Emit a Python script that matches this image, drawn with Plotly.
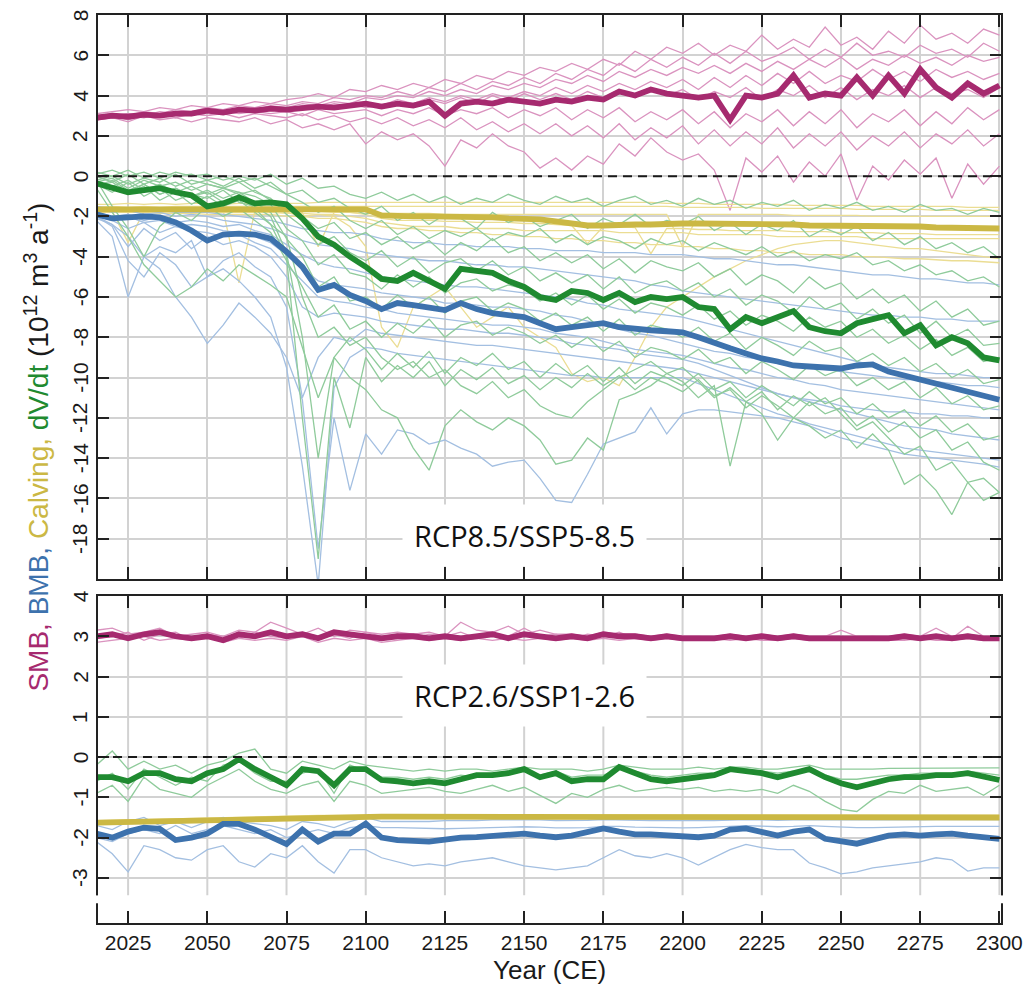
import plotly.graph_objects as go

# ---------------- data ----------------
YEARS = list(range(2015, 2301, 5))
XTICKS = list(range(2025, 2301, 25))
YTICKS_85 = list(range(-18, 9, 2))
YTICKS_26 = list(range(-3, 5, 1))
YLABELS_85 = [str(v) for v in YTICKS_85]
YLABELS_26 = [str(v) for v in YTICKS_26]

# ---- RCP8.5 / SSP5-8.5 : ensemble means ----
SMB85_MEAN = [2.9, 3.0, 2.95, 3.05, 3.0, 3.1, 3.1, 3.25, 3.15, 3.3,
              3.25, 3.35, 3.3, 3.4, 3.45, 3.4, 3.5, 3.6, 3.45, 3.6,
              3.5, 3.7, 3.0, 3.6, 3.7, 3.6, 3.8, 3.7, 3.6, 3.8,
              3.7, 3.9, 3.8, 4.2, 4.0, 4.3, 4.1, 4.0, 3.9, 4.0,
              2.8, 4.0, 3.9, 4.1, 5.0, 3.9, 4.1, 4.0, 4.9, 4.0,
              5.0, 4.1, 5.3, 4.4, 3.9, 4.6, 4.1, 4.5]
BMB85_MEAN = [-1.9, -2.1, -2.05, -2.0, -2.05, -2.3, -2.7, -3.2, -2.9, -2.85,
              -2.9, -3.1, -3.75, -4.5, -5.65, -5.4, -5.9, -6.2, -6.6, -6.3,
              -6.4, -6.5, -6.65, -6.3, -6.6, -6.8, -6.9, -7.0, -7.3, -7.6,
              -7.5, -7.4, -7.3, -7.5, -7.6, -7.65, -7.7, -7.75, -8.0, -8.3,
              -8.55, -8.8, -9.05, -9.2, -9.4, -9.45, -9.5, -9.55, -9.4, -9.35,
              -9.7, -9.9, -10.1, -10.3, -10.55, -10.7, -10.9, -11.1]
CALV85_MEAN = [-1.65, -1.65, -1.65, -1.65, -1.65, -1.6, -1.6, -1.6, -1.6, -1.6,
               -1.6, -1.6, -1.6, -1.6, -1.6, -1.6, -1.6, -1.65, -1.95, -2.0,
               -2.0, -2.0, -2.0, -2.05, -2.05, -2.05, -2.1, -2.1, -2.15, -2.25,
               -2.35, -2.45, -2.45, -2.4, -2.4, -2.4, -2.35, -2.35, -2.35, -2.35,
               -2.35, -2.35, -2.4, -2.4, -2.4, -2.45, -2.45, -2.45, -2.5, -2.5,
               -2.5, -2.5, -2.5, -2.55, -2.55, -2.55, -2.6, -2.6]
DVDT85_MEAN = [-0.35, -0.6, -0.8, -0.7, -0.6, -0.8, -0.95, -1.5, -1.35, -1.05,
               -1.35, -1.3, -1.4, -2.1, -3.0, -3.4, -4.0, -4.5, -5.1, -5.2,
               -4.8, -5.2, -5.6, -4.6, -4.7, -4.8, -5.2, -5.5, -6.0, -6.15,
               -5.7, -5.8, -6.15, -5.8, -6.25, -6.0, -6.1, -6.0, -6.5, -6.6,
               -7.6, -7.0, -7.3, -7.0, -6.7, -7.5, -7.7, -7.8, -7.3, -7.1,
               -6.9, -7.8, -7.4, -8.4, -8.0, -8.3, -9.0, -9.15]

# ---- RCP8.5 : individual runs ----
SMB85_RUNS = [
    [3.1, 3.2, 3.3, 3.2, 3.4, 3.3, 3.5, 3.4, 3.6, 3.5,
     3.7, 3.6, 3.8, 3.9, 4.1, 3.9, 4.3, 4.2, 4.5, 4.3,
     4.6, 4.4, 4.8, 4.6, 5.0, 4.8, 5.2, 5.0, 5.4, 5.2,
     5.6, 5.3, 5.8, 5.5, 6.2, 5.8, 6.4, 6.1, 6.6, 6.0,
     6.5, 6.2, 7.0, 6.3, 6.8, 6.4, 7.4, 6.5, 6.9, 6.3,
     7.2, 6.6, 7.5, 6.8, 7.1, 6.6, 7.3, 7.0],
    [3.0, 3.1, 3.0, 3.2, 3.1, 3.3, 3.2, 3.4, 3.3, 3.5,
     3.4, 3.6, 3.5, 3.7, 3.6, 3.9, 3.8, 4.0, 3.9, 4.2,
     4.0, 4.4, 4.2, 4.6, 4.3, 4.7, 4.5, 4.9, 4.6, 5.1,
     4.8, 5.3, 5.0, 5.6, 5.2, 5.8, 5.4, 5.9, 5.5, 6.1,
     5.6, 6.2, 5.7, 6.0, 6.4, 5.8, 6.3, 5.9, 6.6, 6.0,
     6.2, 5.9, 6.5, 6.1, 6.3, 5.9, 6.6, 6.2],
    [2.9, 3.0, 3.1, 3.0, 3.2, 3.1, 3.2, 3.3, 3.2, 3.4,
     3.3, 3.5, 3.4, 3.6, 3.5, 3.7, 3.6, 3.9, 3.8, 4.0,
     3.9, 4.2, 4.0, 4.3, 4.1, 4.5, 4.3, 4.6, 4.4, 4.8,
     4.6, 5.0, 4.7, 5.2, 4.9, 5.3, 5.0, 5.4, 5.1, 5.5,
     5.1, 5.6, 5.2, 5.7, 5.3, 5.8, 5.4, 5.9, 5.3, 5.8,
     5.5, 6.0, 5.6, 5.9, 5.5, 6.0, 5.7, 5.9],
    [2.8, 3.0, 2.9, 3.1, 3.0, 3.1, 3.0, 3.2, 3.1, 3.3,
     3.2, 3.4, 3.3, 3.5, 3.4, 3.6, 3.5, 3.7, 3.5, 3.8,
     3.6, 3.9, 3.7, 4.0, 3.8, 4.1, 3.9, 4.2, 4.0, 4.4,
     4.1, 4.5, 4.2, 4.6, 4.3, 4.7, 4.4, 4.8, 4.3, 4.9,
     4.4, 5.0, 4.5, 5.1, 4.6, 5.2, 4.6, 5.0, 4.7, 5.3,
     4.8, 5.2, 4.7, 5.3, 4.9, 5.2, 4.8, 5.1],
    [3.0, 2.9, 3.1, 3.0, 3.0, 3.2, 3.1, 3.2, 3.3, 3.2,
     3.4, 3.3, 3.4, 3.3, 3.5, 3.4, 3.6, 3.4, 3.5, 3.7,
     3.5, 3.8, 3.6, 3.9, 3.6, 4.0, 3.7, 4.1, 3.8, 4.1,
     3.8, 4.2, 3.9, 4.3, 3.9, 4.4, 4.0, 4.3, 3.8, 4.2,
     3.9, 4.4, 3.8, 4.3, 4.0, 4.5, 3.9, 4.4, 3.8, 4.3,
     4.0, 4.5, 3.9, 4.4, 4.1, 4.3, 3.9, 4.4],
    [2.8, 2.9, 3.0, 2.9, 3.1, 3.0, 3.1, 3.0, 3.2, 3.1,
     3.2, 3.1, 3.2, 3.0, 3.3, 3.1, 3.2, 3.3, 3.0, 3.3,
     3.1, 3.4, 3.0, 3.3, 3.1, 3.4, 2.9, 3.3, 3.0, 3.4,
     2.8, 3.3, 2.9, 3.4, 2.7, 3.2, 2.8, 3.3, 2.6, 3.2,
     2.4, 3.1, 2.7, 3.3, 2.5, 3.2, 2.6, 3.3, 2.4, 3.1,
     2.7, 3.3, 2.5, 3.2, 2.6, 3.4, 2.8, 3.3],
    [2.9, 3.0, 2.8, 3.0, 3.1, 2.9, 3.1, 3.0, 3.1, 2.9,
     3.1, 3.0, 2.9, 3.1, 2.8, 3.0, 2.7, 2.9, 2.6, 2.9,
     2.5, 2.8, 2.4, 2.9, 2.3, 2.7, 2.2, 2.6, 2.1, 2.6,
     2.0, 2.5, 1.9, 2.6, 1.8, 2.4, 1.9, 2.5, 1.6, 2.3,
     1.5, 2.2, 1.6, 2.4, 1.4, 2.1, 1.5, 2.2, 1.3, 2.0,
     1.5, 2.2, 1.4, 2.1, 1.6, 2.3, 1.5, 2.1],
    [2.8, 2.9, 2.7, 3.0, 2.8, 2.9, 2.7, 2.9, 2.8, 2.7,
     2.9, 2.6, 2.8, 2.4, 2.6, 2.3, 2.6, 1.6, 2.2, 1.8,
     2.1, 1.5, 0.5, 1.8, 1.4, 2.1, 1.5, 1.2, 0.4, 0.9,
     0.3, 1.0, 0.6, 1.6, 1.0, 1.9, 1.2, 0.8, 1.1, 0.3,
     -1.7, 0.9, 0.2, 1.0, -0.3, 0.7, 0.0, 1.1, -1.2, 0.5,
     -0.2, 0.8, 0.1, 0.9, -1.1, 0.6, -0.4, 0.5],
]

BMB85_RUNS = [
    [-1.5, -1.6, -1.6, -1.7, -1.7, -1.8, -1.8, -1.8, -1.9, -2.0,
     -2.1, -2.2, -2.4, -2.6, -2.7, -2.8, -2.8, -2.9, -3.1, -3.2,
     -3.3, -3.3, -3.4, -3.4, -3.5, -3.5, -3.5, -3.6, -3.6, -3.7,
     -3.7, -3.7, -3.8, -3.8, -3.8, -3.9, -3.9, -3.9, -4.0, -4.1,
     -4.1, -4.2, -4.3, -4.4, -4.4, -4.5, -4.6, -4.7, -4.8, -4.9,
     -4.9, -5.0, -5.1, -5.1, -5.2, -5.3, -5.3, -5.4],
    [-1.6, -1.8, -1.7, -1.9, -1.8, -2.0, -1.9, -2.0, -2.2, -2.3,
     -2.4, -2.6, -2.9, -3.2, -3.4, -3.5, -3.6, -3.8, -3.9, -4.0,
     -4.1, -4.2, -4.2, -4.3, -4.4, -4.4, -4.5, -4.5, -4.6, -4.7,
     -4.8, -4.9, -5.0, -5.1, -5.2, -5.4, -5.5, -5.7, -5.8, -5.9,
     -6.0, -6.1, -6.2, -6.3, -6.4, -6.5, -6.6, -6.7, -6.8, -6.9,
     -6.9, -7.0, -7.0, -7.1, -7.1, -7.2, -7.2, -7.2],
    [-1.8, -2.0, -1.9, -2.2, -2.0, -2.3, -2.2, -2.3, -2.5, -2.4,
     -2.7, -2.9, -3.4, -3.9, -4.3, -4.5, -4.6, -4.8, -5.0, -5.1,
     -5.2, -5.3, -5.4, -5.5, -5.5, -5.6, -5.7, -5.8, -5.9, -6.0,
     -6.1, -6.3, -6.4, -6.6, -6.7, -6.8, -6.9, -7.0, -7.2, -7.4,
     -7.6, -7.8, -8.0, -8.2, -8.4, -8.6, -8.8, -9.0, -9.2, -9.4,
     -9.5, -9.6, -9.7, -9.8, -9.8, -9.9, -10.0, -10.0],
    [-1.9, -2.1, -2.0, -2.3, -2.2, -2.5, -2.4, -2.5, -2.7, -2.8,
     -3.0, -3.3, -3.9, -4.6, -5.2, -5.4, -5.5, -5.6, -5.8, -5.9,
     -6.0, -6.1, -6.3, -6.3, -6.4, -6.5, -6.5, -6.6, -6.7, -6.9,
     -7.0, -7.2, -7.4, -7.6, -7.8, -7.9, -8.1, -8.3, -8.5, -8.7,
     -8.8, -9.0, -9.1, -9.3, -9.4, -9.5, -9.6, -9.7, -9.8, -9.9,
     -10.0, -10.1, -10.1, -10.2, -10.3, -10.4, -10.4, -10.5],
    [-2.0, -2.2, -2.6, -2.3, -2.8, -2.5, -2.7, -2.8, -3.0, -2.9,
     -3.3, -3.6, -4.4, -5.2, -6.0, -6.2, -6.3, -6.5, -6.6, -6.8,
     -6.9, -7.0, -7.1, -7.2, -7.3, -7.4, -7.4, -7.5, -7.6, -7.8,
     -7.9, -8.0, -8.2, -8.4, -8.6, -8.7, -8.8, -8.9, -9.1, -9.3,
     -9.5, -9.6, -9.8, -10.0, -10.1, -10.3, -10.4, -10.6, -10.7, -10.8,
     -10.9, -11.0, -11.1, -11.2, -11.3, -11.4, -11.5, -11.6],
    [-2.1, -2.4, -3.5, -2.6, -3.2, -2.8, -3.6, -3.0, -3.4, -3.2,
     -3.5, -4.0, -5.0, -6.5, -7.0, -6.8, -6.9, -7.0, -7.2, -7.3,
     -7.4, -7.5, -7.6, -7.6, -7.7, -7.8, -7.8, -7.9, -8.0, -8.1,
     -8.3, -8.4, -8.5, -8.6, -8.8, -8.9, -9.0, -9.1, -9.3, -9.6,
     -9.9, -10.2, -10.5, -10.8, -11.0, -11.1, -11.2, -11.4, -11.5, -11.6,
     -11.7, -11.7, -11.8, -11.8, -11.9, -11.9, -12.0, -12.0],
    [-2.2, -3.0, -6.0, -4.0, -3.5, -3.8, -3.2, -5.0, -4.2, -3.8,
     -4.5, -5.0, -6.5, -11.0, -9.0, -8.0, -8.2, -7.6, -7.8, -7.9,
     -8.0, -8.1, -8.2, -8.3, -8.4, -8.4, -8.5, -8.6, -8.7, -8.8,
     -8.9, -9.0, -9.1, -9.2, -9.3, -9.4, -9.5, -9.6, -9.8, -10.0,
     -10.2, -10.4, -10.6, -10.8, -11.0, -11.2, -11.4, -11.6, -11.8, -12.0,
     -12.2, -12.4, -12.5, -12.6, -12.8, -12.9, -13.0, -13.1],
    [-2.0, -2.5, -4.2, -5.0, -3.8, -4.4, -5.5, -5.0, -4.6, -5.2,
     -6.0, -7.0, -9.5, -14.4, -20.3, -10.5, -9.0, -8.5, -8.6, -8.8,
     -8.9, -9.0, -9.1, -9.2, -9.3, -9.4, -9.5, -9.6, -9.7, -9.8,
     -9.9, -9.9, -10.0, -10.0, -10.0, -10.0, -10.0, -10.0, -10.3, -10.6,
     -10.9, -11.2, -11.5, -11.8, -12.0, -12.3, -12.5, -12.7, -12.9, -13.1,
     -13.3, -13.5, -13.6, -13.7, -13.8, -13.9, -14.0, -14.1],
    [-2.0, -2.4, -3.0, -4.0, -4.6, -6.0, -7.0, -8.3, -7.4, -6.3,
     -7.0, -7.8, -9.0, -11.1, -18.5, -12.0, -15.6, -12.8, -13.8, -12.6,
     -12.8, -13.3, -13.1, -13.5, -13.8, -14.4, -14.2, -14.1, -15.0, -16.1,
     -16.2, -14.8, -13.3, -13.0, -12.7, -11.5, -12.8, -11.8, -11.6, -11.6,
     -11.7, -11.8, -11.9, -12.0, -12.2, -12.4, -12.7, -13.0, -13.2, -13.4,
     -13.6, -13.8, -13.9, -14.0, -14.1, -14.2, -14.3, -14.45],
]

CALV85_RUNS = [
    [-1.4, -1.4, -1.35, -1.4, -1.35, -1.4, -1.35, -1.35, -1.4, -1.35,
     -1.35, -1.35, -1.35, -1.35, -1.3, -1.3, -1.3, -1.3, -1.3, -1.3,
     -1.3, -1.3, -1.3, -1.3, -1.3, -1.3, -1.3, -1.3, -1.3, -1.3,
     -1.3, -1.3, -1.3, -1.3, -1.3, -1.3, -1.35, -1.35, -1.35, -1.4,
     -1.4, -1.4, -1.4, -1.4, -1.45, -1.45, -1.45, -1.45, -1.45, -1.5,
     -1.5, -1.5, -1.5, -1.5, -1.5, -1.55, -1.55, -1.55],
    [-1.55, -1.5, -1.55, -1.5, -1.55, -1.5, -1.5, -1.5, -1.5, -1.5,
     -1.5, -1.5, -1.5, -1.5, -1.5, -1.5, -1.5, -1.5, -1.5, -1.5,
     -1.5, -1.5, -1.5, -1.5, -1.5, -1.5, -1.5, -1.5, -1.5, -1.5,
     -1.5, -1.5, -1.5, -1.5, -1.5, -1.5, -1.5, -1.55, -1.55, -1.55,
     -1.55, -1.55, -1.6, -1.6, -1.6, -1.6, -1.6, -1.6, -1.65, -1.65,
     -1.65, -1.65, -1.65, -1.7, -1.7, -1.7, -1.7, -1.7],
    [-1.7, -1.75, -3.3, -1.75, -1.7, -1.75, -1.7, -1.75, -1.7, -5.3,
     -1.75, -1.7, -1.75, -1.8, -3.5, -1.8, -1.8, -1.85, -1.85, -1.85,
     -1.85, -1.85, -1.9, -1.9, -1.9, -1.9, -1.9, -1.9, -1.9, -1.9,
     -1.9, -1.9, -1.9, -1.9, -1.9, -1.9, -1.9, -3.5, -1.9, -1.9,
     -1.9, -1.9, -1.9, -1.9, -1.95, -1.95, -1.95, -1.95, -1.95, -2.0,
     -2.0, -2.0, -2.0, -2.0, -2.0, -2.0, -2.0, -2.0],
    [-1.7, -1.7, -1.7, -1.7, -1.65, -1.7, -1.65, -1.7, -1.65, -1.7,
     -1.7, -1.7, -1.7, -1.75, -1.75, -1.8, -1.8, -1.9, -2.1, -2.2,
     -2.2, -2.2, -2.25, -2.25, -2.3, -2.3, -2.3, -2.35, -2.35, -2.4,
     -2.45, -3.35, -2.5, -2.5, -2.55, -3.85, -2.6, -2.6, -2.65, -2.65,
     -2.7, -2.7, -2.7, -2.7, -2.75, -2.75, -2.75, -2.8, -2.8, -2.8,
     -2.85, -2.85, -2.85, -2.9, -2.9, -2.9, -2.9, -2.9],
    [-1.7, -1.7, -1.7, -1.7, -1.7, -1.7, -1.7, -1.7, -1.7, -1.7,
     -1.75, -1.75, -1.8, -2.0, -1.9, -2.0, -2.5, -3.5, -7.5, -8.5,
     -6.5, -6.0, -5.5, -6.5, -7.5, -7.0, -6.5, -7.5, -8.0, -8.5,
     -9.8, -10.2, -10.0, -10.4, -9.0, -7.5, -6.5, -6.0, -5.5, -5.0,
     -4.6, -4.2, -3.9, -3.6, -3.4, -3.3, -3.2, -3.2, -3.3, -3.4,
     -3.5, -3.6, -3.6, -3.7, -3.8, -3.9, -4.0, -4.1],
    [-1.75, -1.75, -1.8, -1.75, -1.8, -1.75, -1.8, -1.8, -1.8, -1.8,
     -1.8, -1.8, -1.85, -1.85, -1.9, -1.9, -2.0, -2.1, -2.3, -2.4,
     -2.5, -2.5, -2.5, -2.6, -2.6, -2.6, -2.6, -2.7, -2.7, -2.7,
     -2.7, -2.7, -2.7, -2.8, -2.8, -2.8, -2.8, -2.8, -2.9, -2.9,
     -2.9, -2.9, -2.9, -3.0, -3.0, -3.0, -3.0, -3.0, -3.0, -3.1,
     -3.1, -3.1, -3.1, -3.1, -3.1, -3.1, -3.1, -3.1],
    [-1.8, -1.8, -1.8, -1.8, -1.85, -1.85, -1.85, -1.9, -1.9, -1.9,
     -1.9, -1.9, -2.0, -2.0, -2.1, -2.1, -2.2, -2.3, -2.5, -2.6,
     -2.6, -2.7, -2.7, -2.8, -2.8, -2.9, -2.9, -3.0, -3.0, -3.1,
     -3.1, -3.2, -3.2, -3.3, -3.3, -3.4, -3.4, -3.5, -3.5, -3.6,
     -3.6, -3.7, -3.7, -3.8, -3.8, -3.9, -3.9, -3.9, -4.0, -4.0,
     -4.05, -4.1, -4.1, -4.15, -4.2, -4.2, -4.25, -4.3],
]

DVDT85_RUNS = [
    [0.1, 0.3, 0.0, 0.2, -0.1, 0.2, 0.0, 0.1, -0.2, 0.0,
     -0.2, 0.1, -0.4, -0.1, -0.6, -0.5, -0.9, -1.1, -0.8, -1.2,
     -0.9, -1.3, -1.0, -1.4, -1.1, -1.3, -0.9, -1.2, -1.4, -1.0,
     -1.3, -1.1, -1.5, -1.2, -1.0, -1.4, -1.2, -1.5, -1.1, -1.4,
     -1.2, -1.6, -1.3, -1.5, -1.2, -1.7, -1.4, -1.6, -1.3, -1.7,
     -1.5, -1.8, -1.4, -1.7, -1.6, -1.9, -1.6, -1.8],
    [-0.2, 0.0, -0.4, -0.1, -0.3, 0.1, -0.4, -0.2, -0.5, -0.1,
     -0.6, -0.3, -0.9, -0.7, -1.3, -1.1, -1.6, -1.9, -1.5, -2.2,
     -1.8, -2.4, -1.9, -2.1, -2.6, -1.8, -2.3, -2.0, -2.5, -2.2,
     -1.9, -2.6, -2.1, -2.4, -1.9, -2.5, -2.2, -2.4, -2.0, -2.7,
     -2.3, -2.9, -2.4, -2.7, -2.2, -3.0, -2.6, -2.9, -2.5, -3.2,
     -2.8, -3.4, -3.0, -3.6, -3.3, -3.8, -3.5, -4.1],
    [-0.3, -0.1, -0.6, -0.2, -0.5, -0.3, -0.7, -0.4, -0.6, -0.9,
     -0.7, -1.2, -1.5, -2.0, -2.6, -2.3, -3.1, -2.8, -3.4, -3.0,
     -3.6, -3.2, -3.9, -3.3, -3.7, -3.1, -3.8, -3.5, -4.2, -3.8,
     -4.3, -3.9, -4.6, -4.1, -4.8, -4.2, -4.5, -4.7, -4.3, -5.0,
     -4.6, -5.4, -4.9, -5.2, -5.8, -5.0, -5.6, -5.3, -6.1, -5.6,
     -6.3, -5.9, -6.7, -6.2, -7.0, -6.6, -7.4, -7.2],
    [0.0, -0.3, 0.1, -0.4, -0.1, -0.5, -0.2, -0.4, -0.6, -0.3,
     -0.8, -1.1, -1.9, -2.5, -3.4, -3.0, -3.8, -4.2, -3.7, -4.5,
     -4.0, -4.8, -4.3, -4.1, -4.7, -4.2, -4.9, -4.5, -5.2, -4.8,
     -5.3, -4.9, -5.6, -5.0, -5.8, -5.4, -5.2, -5.7, -5.3, -6.0,
     -5.6, -6.4, -5.9, -6.2, -6.8, -6.0, -6.6, -6.3, -7.1, -6.6,
     -7.3, -6.9, -7.8, -7.2, -8.0, -7.6, -8.4, -8.3],
    [-0.3, -0.5, -0.2, -0.7, -0.4, -0.8, -0.5, -0.9, -0.6, -0.8,
     -1.0, -1.4, -2.6, -3.2, -4.4, -3.9, -4.8, -5.0, -5.6, -4.9,
     -5.5, -5.0, -5.8, -5.3, -5.1, -5.7, -5.4, -5.6, -6.2, -5.8,
     -6.4, -5.9, -6.6, -6.1, -6.8, -6.3, -6.5, -6.9, -6.4, -7.1,
     -6.7, -7.4, -6.9, -7.2, -7.7, -7.0, -7.5, -7.2, -8.0, -7.6,
     -8.3, -7.9, -8.6, -8.1, -8.9, -8.5, -9.2, -9.0],
    [-0.5, -0.3, -0.8, -0.4, -0.9, -0.6, -1.0, -0.7, -1.1, -0.8,
     -1.3, -1.8, -3.1, -4.0, -5.5, -5.0, -6.2, -6.0, -6.6, -5.9,
     -6.5, -6.0, -6.8, -6.2, -6.0, -6.7, -6.3, -6.6, -7.2, -6.8,
     -7.4, -7.0, -7.7, -7.1, -7.9, -7.4, -7.6, -8.0, -7.5, -8.2,
     -7.8, -8.6, -8.0, -8.4, -8.9, -8.2, -8.7, -8.5, -9.2, -8.8,
     -9.4, -9.0, -9.7, -9.3, -10.0, -9.6, -10.3, -10.1],
    [-0.2, -1.5, -2.6, -4.0, -2.5, -1.8, -2.2, -1.5, -2.0, -1.6,
     -2.2, -2.8, -4.2, -5.5, -7.0, -6.4, -7.6, -7.2, -8.0, -7.3,
     -7.8, -7.1, -8.0, -7.4, -7.2, -7.9, -7.5, -7.8, -8.3, -7.9,
     -8.5, -8.0, -8.7, -8.2, -9.0, -8.5, -8.7, -9.1, -8.6, -9.3,
     -9.0, -9.8, -9.2, -9.6, -10.1, -9.4, -9.9, -9.6, -10.4, -10.0,
     -10.6, -10.2, -11.0, -10.5, -11.3, -10.9, -11.6, -11.4],
    [-0.6, -1.8, -3.0, -4.4, -5.2, -6.0, -5.5, -4.6, -5.2, -4.4,
     -4.9, -5.4, -6.0, -8.5, -11.0, -9.0, -8.0, -8.6, -9.6, -8.8,
     -9.5, -8.7, -9.8, -9.0, -9.4, -8.8, -9.6, -9.2, -10.0, -9.3,
     -9.9, -9.4, -10.2, -9.5, -10.3, -9.7, -10.0, -10.4, -9.8, -10.6,
     -10.2, -11.0, -10.4, -10.9, -11.4, -10.7, -11.3, -11.0, -11.8, -11.3,
     -12.0, -11.6, -12.4, -11.9, -12.7, -12.3, -13.1, -12.9],
    [-0.5, -0.2, -0.7, -0.4, -0.9, -0.6, -1.0, -0.8, -1.3, -1.0,
     -1.6, -2.4, -4.0, -12.0, -19.0, -10.0, -12.5, -9.0, -10.2, -9.4,
     -10.0, -9.2, -10.4, -9.6, -10.1, -9.5, -10.3, -9.9, -10.6, -10.0,
     -10.5, -9.8, -10.4, -9.9, -10.6, -10.0, -10.3, -10.7, -10.1, -10.9,
     -10.6, -11.5, -10.9, -11.4, -12.0, -11.2, -11.8, -11.5, -12.4, -11.9,
     -12.7, -12.2, -13.0, -12.6, -13.6, -13.2, -14.2, -14.6],
    [-0.4, -0.8, -0.3, -1.0, -0.6, -1.2, -0.9, -1.1, -0.7, -1.3,
     -1.5, -2.0, -3.8, -8.0, -14.0, -9.0, -10.0, -10.6, -11.6, -12.0,
     -13.5, -14.6, -12.4, -11.6, -12.2, -12.6, -12.0, -12.4, -13.1, -14.3,
     -14.1, -13.0, -13.6, -11.1, -10.8, -10.4, -9.8, -9.5, -10.2, -11.0,
     -10.5, -11.2, -10.7, -11.6, -10.9, -11.4, -11.0, -11.8, -12.6, -12.2,
     -13.0, -13.8, -13.4, -14.6, -14.2, -15.2, -15.0, -15.7],
    [-0.3, -0.6, -0.9, -0.5, -1.2, -0.8, -1.4, -1.0, -1.5, -1.2,
     -1.8, -2.4, -3.0, -6.0, -8.0, -7.5, -8.4, -8.0, -9.0, -9.6,
     -9.2, -10.0, -9.6, -10.4, -10.8, -10.2, -11.0, -10.6, -11.4, -11.8,
     -12.0, -11.2, -10.6, -10.0, -9.6, -9.2, -9.8, -10.2, -11.0, -10.4,
     -14.4, -11.2, -11.8, -13.1, -12.0, -12.4, -13.0, -12.6, -13.5, -12.8,
     -13.6, -15.3, -14.8, -15.6, -16.8, -15.2, -16.1, -15.7],
    [0.2, 0.0, 0.3, -0.1, 0.2, 0.0, 0.1, -0.2, 0.0, -0.3,
     -0.1, -0.5, -0.9, -1.3, -1.8, -1.5, -2.2, -2.6, -2.2, -2.9,
     -2.5, -3.1, -2.7, -3.0, -2.6, -3.2, -2.8, -3.0, -2.6, -3.3,
     -2.9, -3.4, -3.0, -3.2, -3.6, -3.1, -3.4, -3.2, -3.7, -3.3,
     -3.6, -3.9, -3.5, -4.0, -3.7, -4.2, -3.9, -4.1, -3.8, -4.4,
     -4.2, -4.7, -4.4, -4.9, -4.7, -5.2, -5.0, -5.5],
]

# ---- RCP2.6 / SSP1-2.6 : ensemble means ----
SMB26_MEAN = [3.0, 3.05, 2.95, 3.05, 3.1, 3.0, 2.95, 3.0, 2.9, 3.05,
              3.0, 3.1, 3.0, 3.05, 2.95, 3.1, 3.05, 3.0, 2.95, 3.0,
              3.0, 2.95, 3.0, 2.95, 3.0, 3.05, 2.95, 3.05, 3.0, 2.95,
              3.0, 2.95, 3.05, 3.0, 3.0, 2.95, 3.0, 2.95, 2.95, 2.95,
              3.0, 2.95, 3.0, 2.95, 3.0, 2.95, 2.95, 2.95, 2.95, 2.95,
              2.95, 3.0, 2.95, 3.0, 2.95, 3.0, 2.95, 2.95]
BMB26_MEAN = [-1.9, -2.0, -1.85, -1.75, -1.78, -2.06, -2.0, -1.9, -1.66, -1.66,
              -1.8, -1.98, -2.16, -1.8, -2.1, -1.9, -1.9, -1.65, -2.0, -2.06,
              -2.08, -2.1, -2.05, -2.0, -1.99, -1.95, -1.92, -1.9, -1.95, -1.99,
              -1.95, -1.85, -1.77, -1.85, -1.92, -1.92, -1.95, -1.98, -1.99, -1.95,
              -1.8, -1.77, -1.85, -1.95, -1.85, -1.8, -2.03, -2.1, -2.15, -2.05,
              -1.95, -1.92, -1.95, -1.92, -1.9, -1.95, -2.0, -2.03]
CALV26_MEAN = [-1.63, -1.62, -1.61, -1.6, -1.59, -1.58, -1.57, -1.56, -1.55, -1.54,
               -1.53, -1.52, -1.51, -1.5, -1.5, -1.49, -1.49, -1.48, -1.48, -1.48,
               -1.48, -1.48, -1.48, -1.48, -1.48, -1.48, -1.48, -1.48, -1.48, -1.48,
               -1.48, -1.48, -1.48, -1.48, -1.48, -1.49, -1.49, -1.49, -1.49, -1.49,
               -1.49, -1.49, -1.49, -1.49, -1.49, -1.49, -1.49, -1.49, -1.49, -1.49,
               -1.5, -1.5, -1.5, -1.5, -1.5, -1.5, -1.5, -1.5]
DVDT26_MEAN = [-0.5, -0.5, -0.6, -0.4, -0.4, -0.55, -0.6, -0.4, -0.3, -0.05,
               -0.3, -0.5, -0.7, -0.3, -0.35, -0.7, -0.3, -0.3, -0.57, -0.6,
               -0.65, -0.6, -0.65, -0.55, -0.45, -0.45, -0.4, -0.3, -0.5, -0.4,
               -0.6, -0.55, -0.55, -0.25, -0.4, -0.55, -0.6, -0.55, -0.5, -0.45,
               -0.3, -0.35, -0.4, -0.5, -0.4, -0.3, -0.5, -0.65, -0.75, -0.65,
               -0.55, -0.5, -0.5, -0.45, -0.45, -0.4, -0.5, -0.57]

# ---- RCP2.6 : individual runs ----
SMB26_RUNS = [
    [3.15, 3.2, 3.05, 3.1, 3.2, 3.0, 3.05, 3.1, 3.0, 3.15,
     3.1, 3.35, 3.2, 3.05, 3.2, 3.0, 3.15, 3.1, 3.05, 3.1,
     3.05, 3.1, 3.0, 3.35, 3.15, 3.1, 3.25, 3.05, 3.15, 3.05,
     3.05, 3.0, 3.1, 3.05, 3.05, 3.0, 3.05, 3.0, 3.0, 3.0,
     3.05, 3.0, 3.05, 3.0, 3.05, 3.0, 3.0, 3.15, 3.0, 3.0,
     3.0, 3.05, 3.0, 3.2, 3.0, 3.05, 3.0, 3.0],
    [2.85, 2.9, 2.95, 3.0, 2.9, 2.95, 2.9, 3.0, 2.85, 2.95,
     2.9, 2.95, 2.9, 3.0, 2.85, 2.95, 2.9, 2.95, 2.85, 2.9,
     2.95, 2.9, 2.95, 2.9, 2.95, 2.9, 2.95, 2.9, 2.95, 2.9,
     2.95, 2.9, 2.95, 2.9, 2.95, 2.9, 2.95, 2.9, 2.9, 2.95,
     2.9, 2.95, 2.9, 2.9, 2.95, 2.9, 2.9, 2.9, 2.9, 2.9,
     2.9, 2.9, 2.95, 2.9, 2.9, 2.95, 2.9, 2.9],
    [2.95, 3.0, 3.1, 2.9, 3.05, 3.1, 2.9, 3.05, 3.0, 2.95,
     3.1, 3.0, 2.95, 3.1, 3.0, 3.05, 2.95, 3.1, 3.0, 3.05,
     2.95, 3.05, 3.0, 3.1, 2.95, 3.05, 3.0, 3.2, 3.0, 3.05,
     2.95, 3.05, 3.0, 3.1, 2.95, 3.0, 2.95, 3.0, 3.0, 2.95,
     3.0, 2.95, 3.05, 2.95, 3.0, 2.95, 3.0, 3.0, 2.95, 3.0,
     2.95, 3.0, 2.95, 3.0, 2.95, 3.25, 3.0, 2.95],
]
DVDT26_RUNS = [
    [-0.2, 0.15, -0.3, -0.1, -0.3, -0.2, -0.4, -0.2, -0.1, 0.1,
     0.2, -0.3, -0.4, -0.1, -0.2, -0.3, -0.1, -0.2, -0.25, -0.3,
     -0.35, -0.3, -0.35, -0.3, -0.3, -0.35, -0.3, -0.25, -0.3, -0.3,
     -0.3, -0.35, -0.3, -0.2, -0.25, -0.3, -0.3, -0.3, -0.25, -0.3,
     -0.25, -0.25, -0.3, -0.3, -0.25, -0.2, -0.3, -0.3, -0.3, -0.3,
     -0.28, -0.28, -0.28, -0.27, -0.27, -0.27, -0.27, -0.27],
    [-0.6, -0.4, -0.8, -0.3, -0.5, -0.7, -0.5, -0.6, -0.2, -0.1,
     -0.4, -0.6, -0.6, -0.4, -0.3, -0.9, -0.2, -0.35, -0.5, -0.5,
     -0.55, -0.5, -0.55, -0.45, -0.5, -0.4, -0.35, -0.35, -0.45, -0.35,
     -0.5, -0.45, -0.45, -0.3, -0.35, -0.45, -0.5, -0.45, -0.4, -0.4,
     -0.35, -0.3, -0.35, -0.4, -0.35, -0.3, -0.45, -0.55, -0.55, -0.5,
     -0.45, -0.45, -0.4, -0.4, -0.4, -0.35, -0.4, -0.45],
    [-0.9, -0.7, -1.1, -0.5, -0.8, -0.9, -1.0, -0.7, -0.5, -0.3,
     -0.6, -0.8, -0.9, -0.7, -0.6, -1.1, -0.6, -0.7, -0.9, -0.85,
     -0.8, -0.75, -0.85, -0.9, -0.8, -0.7, -0.85, -0.75, -0.95, -1.15,
     -0.9, -1.0, -0.8, -0.7, -0.85, -0.8, -0.75, -0.8, -0.75, -0.85,
     -0.8, -0.85, -0.8, -0.9, -0.7, -0.85, -1.1, -1.3, -1.35, -1.05,
     -0.85, -0.9, -0.7, -0.85, -0.8, -0.75, -0.95, -0.7],
]
CALV26_RUNS = [
    [-1.58, -1.57, -1.56, -1.55, -1.54, -1.53, -1.52, -1.51, -1.5, -1.49,
     -1.48, -1.47, -1.46, -1.46, -1.45, -1.45, -1.45, -1.44, -1.44, -1.44,
     -1.44, -1.44, -1.44, -1.44, -1.44, -1.44, -1.44, -1.44, -1.44, -1.44,
     -1.44, -1.44, -1.44, -1.44, -1.44, -1.44, -1.44, -1.44, -1.44, -1.44,
     -1.44, -1.44, -1.44, -1.44, -1.45, -1.45, -1.45, -1.45, -1.45, -1.45,
     -1.45, -1.45, -1.45, -1.45, -1.45, -1.45, -1.45, -1.45],
    [-1.66, -1.65, -1.64, -1.63, -1.62, -1.61, -1.6, -1.59, -1.58, -1.57,
     -1.56, -1.55, -1.54, -1.53, -1.52, -1.52, -1.51, -1.51, -1.51, -1.51,
     -1.51, -1.51, -1.51, -1.51, -1.51, -1.51, -1.51, -1.51, -1.51, -1.51,
     -1.51, -1.51, -1.51, -1.51, -1.51, -1.51, -1.52, -1.52, -1.52, -1.52,
     -1.52, -1.52, -1.52, -1.52, -1.52, -1.52, -1.52, -1.52, -1.52, -1.52,
     -1.52, -1.52, -1.52, -1.52, -1.52, -1.52, -1.52, -1.52],
]
BMB26_RUNS = [
    [-1.7, -1.8, -1.6, -1.5, -1.7, -1.6, -1.75, -1.6, -1.5, -1.6,
     -1.65, -1.7, -1.8, -1.6, -1.65, -1.75, -1.6, -1.5, -1.6, -1.6,
     -1.6, -1.6, -1.58, -1.58, -1.58, -1.56, -1.56, -1.55, -1.56, -1.58,
     -1.58, -1.57, -1.55, -1.56, -1.58, -1.58, -1.57, -1.58, -1.58, -1.58,
     -1.57, -1.55, -1.56, -1.57, -1.56, -1.55, -1.56, -1.56, -1.57, -1.57,
     -1.56, -1.56, -1.56, -1.55, -1.55, -1.55, -1.55, -1.55],
    [-2.0, -2.1, -1.9, -1.8, -1.9, -1.7, -1.9, -1.8, -1.7, -1.8,
     -1.9, -1.8, -2.0, -1.9, -1.8, -1.9, -1.75, -1.7, -1.75, -1.75,
     -1.76, -1.77, -1.78, -1.77, -1.76, -1.75, -1.74, -1.73, -1.74, -1.76,
     -1.76, -1.75, -1.72, -1.72, -1.74, -1.75, -1.76, -1.76, -1.75, -1.74,
     -1.72, -1.7, -1.71, -1.73, -1.72, -1.7, -1.72, -1.74, -1.75, -1.75,
     -1.74, -1.73, -1.73, -1.72, -1.72, -1.72, -1.72, -1.72],
    [-2.1, -2.4, -2.85, -2.2, -2.3, -2.5, -2.56, -2.3, -2.2, -2.6,
     -2.73, -2.4, -2.5, -2.2, -2.6, -2.88, -2.3, -2.3, -2.5, -2.6,
     -2.7, -2.65, -2.7, -2.6, -2.55, -2.5, -2.6, -2.7, -2.75, -2.8,
     -2.75, -2.7, -2.5, -2.3, -2.45, -2.5, -2.4, -2.5, -2.68, -2.5,
     -2.3, -2.17, -2.25, -2.3, -2.3, -2.63, -2.75, -2.9, -2.85, -2.75,
     -2.7, -2.65, -2.6, -2.5, -2.55, -2.83, -2.75, -2.75],
]

# ---------------- styling ----------------
SMB_DARK, SMB_LIGHT = "#a62a6f", "#da93bf"
BMB_DARK, BMB_LIGHT = "#3d72ad", "#a3bfe1"
CALV_DARK, CALV_LIGHT = "#cbb844", "#ebdd93"
DVDT_DARK, DVDT_LIGHT = "#1f8a30", "#8fcb9b"
AXIS_COL = "#222222"
GRID_COL = "#d2d2d2"
FONT = "Liberation Sans, Arial, sans-serif"
TXT_COL = "#1a1a1a"

# pixel geometry helpers (figure 1035x988)
W, H = 1035, 988
ML, MR, MT, MB = 98, 25, 15, 65
PW = W - ML - MR
PH = H - MT - MB


def py(pix):
    return (H - MB - pix) / PH


def px(pix):
    return (pix - ML) / PW


fig = go.Figure()


def add_lines(series_list, color, width, xa, ya):
    for s in series_list:
        fig.add_trace(go.Scatter(
            x=YEARS[:len(s)], y=s, mode="lines",
            line=dict(color=color, width=width, shape="linear"),
            xaxis=xa, yaxis=ya, hoverinfo="skip", showlegend=False))


THIN = 1.3
THICK = 5.8
# top panel (RCP8.5)
add_lines(SMB85_RUNS, SMB_LIGHT, THIN, "x", "y")
add_lines(CALV85_RUNS, CALV_LIGHT, THIN, "x", "y")
add_lines(BMB85_RUNS, BMB_LIGHT, THIN, "x", "y")
add_lines(DVDT85_RUNS, DVDT_LIGHT, THIN, "x", "y")
add_lines([CALV85_MEAN], CALV_DARK, THICK, "x", "y")
add_lines([BMB85_MEAN], BMB_DARK, THICK, "x", "y")
add_lines([DVDT85_MEAN], DVDT_DARK, THICK, "x", "y")
add_lines([SMB85_MEAN], SMB_DARK, THICK, "x", "y")

# bottom panel (RCP2.6)
add_lines(SMB26_RUNS, SMB_LIGHT, THIN, "x2", "y2")
add_lines(CALV26_RUNS, CALV_LIGHT, THIN, "x2", "y2")
add_lines(BMB26_RUNS, BMB_LIGHT, THIN, "x2", "y2")
add_lines(DVDT26_RUNS, DVDT_LIGHT, THIN, "x2", "y2")
add_lines([CALV26_MEAN], CALV_DARK, THICK, "x2", "y2")
add_lines([BMB26_MEAN], BMB_DARK, THICK, "x2", "y2")
add_lines([DVDT26_MEAN], DVDT_DARK, THICK, "x2", "y2")
add_lines([SMB26_MEAN], SMB_DARK, THICK, "x2", "y2")

XR = [2015.5, 2300.5]
TOP_DOM = [py(579), 1.0]
BOT_DOM = [0.0, py(596)]
BOT_YR = [-4.12, 4.0]
BOT_FRAME_LOW = -3.43

common_x = dict(range=XR, tickvals=XTICKS, ticks="inside", ticklen=12, tickwidth=2,
                tickcolor=AXIS_COL, showline=True, linewidth=2, linecolor=AXIS_COL,
                mirror="ticks", zeroline=False,
                tickfont=dict(family=FONT, size=21, color=TXT_COL))
common_y = dict(ticks="inside", ticklen=11, tickwidth=2, tickcolor=AXIS_COL,
                showline=True, linewidth=2, linecolor=AXIS_COL, mirror="ticks",
                zeroline=False, showgrid=True, gridcolor=GRID_COL, gridwidth=2,
                tickmode="array", showticklabels=False)

fig.update_layout(
    width=W, height=H,
    margin=dict(l=ML, r=MR, t=MT, b=MB),
    paper_bgcolor="white", plot_bgcolor="white",
    showlegend=False,
    xaxis=dict(**common_x, anchor="y", domain=[0, 1], showticklabels=False,
               showgrid=True, gridcolor=GRID_COL, gridwidth=2),
    yaxis=dict(**common_y, anchor="x", domain=TOP_DOM, range=[-20, 8],
               tickvals=YTICKS_85),
    xaxis2=dict(**common_x, anchor="y2", domain=[0, 1], showticklabels=True,
                showgrid=False),
    yaxis2=dict(**common_y, anchor="x2", domain=BOT_DOM, range=BOT_YR,
                tickvals=YTICKS_26),
)

shapes = []
# vertical grid lines of the lower panel stop at the frame bottom
for yr in XTICKS:
    shapes.append(dict(type="line", xref="x2", yref="y2", x0=yr, x1=yr,
                       y0=BOT_FRAME_LOW, y1=BOT_YR[1], layer="below",
                       line=dict(color=GRID_COL, width=2)))
# zero reference lines (dashed)
for xr, yr in (("x domain", "y"), ("x2 domain", "y2")):
    shapes.append(dict(type="line", xref=xr, yref=yr, x0=0, x1=1, y0=0, y1=0,
                       layer="above", line=dict(color=TXT_COL, width=2, dash="9px,6px")))
# small gap between the lower frame and the detached x axis
for x0, x1 in ((-0.006, 0.006), (0.994, 1.006)):
    shapes.append(dict(type="rect", xref="paper", yref="y2", x0=x0, x1=x1,
                       y0=BOT_FRAME_LOW - 0.005, y1=-3.63, layer="above",
                       fillcolor="white", line=dict(width=0)))
fig.update_layout(shapes=shapes)

ytitle = ('<span style="color:%s">SMB,</span> <span style="color:%s">BMB,</span> '
          '<span style="color:%s">Calving,</span> <span style="color:%s">dV/dt</span> '
          '(10<sup>12</sup> m<sup>3</sup> a<sup>-1</sup>)') % (SMB_DARK, BMB_DARK, CALV_DARK, DVDT_DARK)

annotations = [
    dict(text=ytitle, xref="paper", yref="paper", x=px(36), y=py(447),
         xanchor="center", yanchor="middle", textangle=-90, showarrow=False,
         font=dict(family=FONT, size=28, color=TXT_COL)),
    dict(text="Year (CE)", xref="paper", yref="paper", x=0.5, y=py(970),
         xanchor="center", yanchor="middle", showarrow=False,
         font=dict(family=FONT, size=26, color=TXT_COL)),
    dict(text="RCP8.5/SSP5-8.5", xref="x", yref="y", x=2150, y=-17.85,
         xanchor="center", yanchor="middle", showarrow=False, bgcolor="white",
         borderpad=11, font=dict(family="Open Sans, sans-serif", size=29, color="#111111")),
    dict(text="RCP2.6/SSP1-2.6", xref="x2", yref="y2", x=2150, y=1.52,
         xanchor="center", yanchor="middle", showarrow=False, bgcolor="white",
         borderpad=11, font=dict(family="Open Sans, sans-serif", size=29, color="#111111")),
]
# rotated y tick labels (reading bottom-to-top), placed on the axis scale
for yref, vals, labels in (("y", YTICKS_85, YLABELS_85), ("y2", YTICKS_26, YLABELS_26)):
    for v, lab in zip(vals, labels):
        annotations.append(dict(text=lab, xref="paper", yref=yref, x=px(80), y=v,
                                xanchor="center", yanchor="middle", textangle=-90,
                                showarrow=False,
                                font=dict(family=FONT, size=21, color=TXT_COL)))
fig.update_layout(annotations=annotations)

fig.write_html("out.html")
